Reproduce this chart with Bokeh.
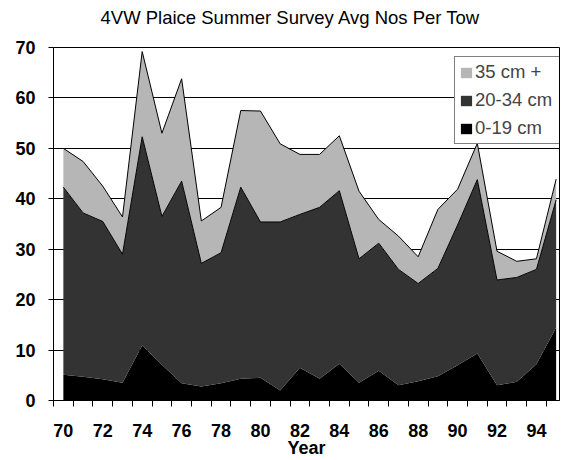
from bokeh.plotting import figure
from bokeh.models import ColumnDataSource, Range1d, FixedTicker, Legend, LegendItem, LinearAxis
from bokeh.transform import stack
from bokeh.embed import file_html
from bokeh.resources import INLINE

# ---- data ----
years = list(range(70, 96))
small = [5.1, 4.7, 4.2, 3.5, 10.9, 7.1, 3.4, 2.8, 3.4, 4.3, 4.5, 2.0, 6.5,
         4.3, 7.3, 3.5, 5.9, 3.0, 3.8, 4.8, 7.0, 9.3, 3.0, 3.7, 7.2, 14.5]
medium = [37.2, 32.5, 31.3, 25.5, 41.4, 29.4, 40.1, 24.4, 25.9, 38.0, 30.9, 33.4, 30.4,
          34.0, 34.3, 24.6, 25.3, 23.0, 19.4, 21.4, 27.8, 34.5, 20.9, 20.7, 18.8, 25.3]
large = [7.7, 10.2, 7.0, 7.4, 16.9, 16.5, 20.3, 8.4, 9.0, 15.2, 22.0, 15.5, 11.9,
         10.5, 10.9, 13.4, 4.7, 6.6, 5.3, 11.7, 7.1, 7.2, 5.7, 3.2, 2.1, 4.1]
series_names = ["0-19 cm", "20-34 cm", "35 cm +"]
x_tick_years = [70, 72, 74, 76, 78, 80, 82, 84, 86, 88, 90, 92, 94]
y_ticks = [0, 10, 20, 30, 40, 50, 60, 70]

FONT = "Liberation Sans"

src = ColumnDataSource(dict(year=years, small=small, medium=medium, large=large))

p = figure(width=563, height=460, output_backend="svg", toolbar_location=None,
           x_range=Range1d(69.5, 95.17), y_range=Range1d(0, 70),
           min_border_left=53, min_border_right=4, min_border_top=47, min_border_bottom=58,
           background_fill_color="white", border_fill_color="white",
           title="4VW Plaice Summer Survey Avg Nos Per Tow")
p.outline_line_color = "black"
p.outline_line_width = 1

p.title.align = "left"
p.title.offset = 47
p.title.standoff = 0
p.title.text_font = FONT
p.title.text_font_size = "18.5px"
p.title.text_font_style = "normal"
p.title.text_color = "black"

r_small = p.varea(x="year", y1=0, y2=stack("small"), source=src, fill_color="black")
r_med = p.varea(x="year", y1=stack("small"), y2=stack("small", "medium"), source=src,
                fill_color="#333333")
r_large = p.varea(x="year", y1=stack("small", "medium"), y2=stack("small", "medium", "large"),
                  source=src, fill_color="#b6b6b6")
p.line(x="year", y=stack("small", "medium"), source=src, line_color="black", line_width=1)
p.line(x="year", y=stack("small", "medium", "large"), source=src, line_color="black", line_width=1)

# main axes
xax = p.below[0]
yax = p.left[0]
xax.ticker = FixedTicker(ticks=x_tick_years, minor_ticks=[y - 0.5 for y in years])
xax.major_tick_out = 0
xax.major_tick_in = 0
xax.minor_tick_out = 6
xax.minor_tick_in = 0
xax.minor_tick_line_color = "black"
xax.major_label_standoff = 17
xax.axis_label = "Year"
xax.axis_label_standoff = -2
xax.axis_label_text_font = FONT
xax.axis_label_text_font_size = "18px"
xax.axis_label_text_font_style = "bold"
xax.axis_label_text_color = "black"
yax.ticker = FixedTicker(ticks=y_ticks)
yax.major_tick_out = 5
yax.major_tick_in = 0
yax.minor_tick_line_color = None
yax.major_label_standoff = 13
for ax in (xax, yax):
    ax.axis_line_color = "black"
    ax.major_tick_line_color = "black"
    ax.major_label_text_font = FONT
    ax.major_label_text_font_size = "18px"
    ax.major_label_text_font_style = "bold"
    ax.major_label_text_color = "black"

p.xgrid.visible = False
p.ygrid.ticker = FixedTicker(ticks=y_ticks)
p.ygrid.grid_line_color = "black"
p.ygrid.grid_line_width = 1

# invisible spacer between frame and title (one hidden tick, empty label)
spacer = LinearAxis(ticker=FixedTicker(ticks=[95], minor_ticks=[]), major_tick_out=20,
                    major_tick_in=0, minor_tick_out=0, minor_tick_in=0,
                    major_label_standoff=0, axis_line_color=None,
                    major_tick_line_color=None, minor_tick_line_color=None,
                    major_label_overrides={95: ""})
p.add_layout(spacer, "above")

legend = Legend(items=[LegendItem(label=series_names[2], renderers=[r_large]),
                       LegendItem(label=series_names[1], renderers=[r_med]),
                       LegendItem(label=series_names[0], renderers=[r_small])],
                location=(401, 256), border_line_color="black", border_line_width=1,
                background_fill_color="white", background_fill_alpha=1.0,
                label_text_font=FONT, label_text_font_size="18.5px",
                glyph_width=14, glyph_height=13, label_height=20, label_width=83,
                spacing=6, padding=4, margin=0, label_standoff=2)
p.add_layout(legend)

open("out.html", "w").write(file_html(p, INLINE))
